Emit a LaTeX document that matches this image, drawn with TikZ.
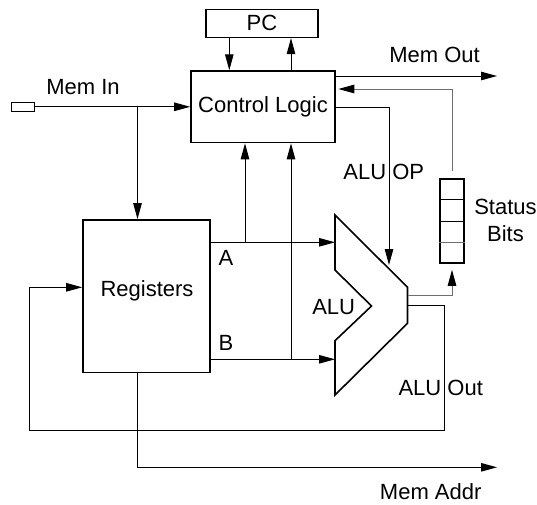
\documentclass[tikz,border=0pt]{standalone}
\usepackage{fontspec}
\setmainfont{Liberation Sans}
\usetikzlibrary{arrows.meta,positioning,calc}
\definecolor{cpuInk}{HTML}{000000}
\definecolor{cpuGrey}{HTML}{6e6e6e}
\tikzset{
  >={Triangle[length=16pt,width=8.5pt]},
  unit/.style={draw=cpuInk, line width=1.6pt, inner sep=0pt,
              font=\fontsize{22}{27}\selectfont},
  lbl/.style={inner sep=0pt, font=\fontsize{22}{27}\selectfont, text=cpuInk},
  flow/.style={->, draw=cpuInk, line width=1pt},
  gflow/.style={-{Triangle[length=16pt,width=8.5pt,color=cpuInk]}, draw=cpuGrey, line width=1pt},
}

\begin{document}
\begin{tikzpicture}[x=1pt,y=-1pt]
    \useasboundingbox (0,0) rectangle (537,504);
    % blocks
    \node[unit,minimum width=111.7pt,minimum height=28pt] (pc) at (262,23.3) {PC};
    \node[unit,minimum width=144pt,minimum height=71.5pt] (ctrl) at (263,106.8) {Control Logic};
    \node[unit,minimum width=127pt,minimum height=152.7pt] (regs) at (146.5,296.3) {};
    \node[lbl] (regslbl) at (147,290.5) {Registers};
    \node[unit,minimum width=24pt,minimum height=84pt] (status) at (452,221) {};
    \foreach \k/\col in {1/cpuInk,2/cpuInk,3/cpuGrey}{
      \draw[\col,line width=1pt] ($(status.north west)!\k/4!(status.south west)$)
        -- ($(status.north east)!\k/4!(status.south east)$);
    }
    \node[lbl,align=center] (statuslbl) at (505.5,220.5) {Status\\Bits};
    \node[unit,line width=1pt,minimum width=23pt,minimum height=9pt] (memin) at (22.5,106.8) {};
    \node[lbl] (meminlbl) at (83,86.7) {Mem In};
    % ALU outline
    \coordinate (alutl) at (335,215);
    \coordinate (alutr) at (407.5,287.3);
    \coordinate (alubr) at (407.5,323.3);
    \coordinate (alubl) at (335,395);
    \coordinate (alulo) at (335,340.7);
    \coordinate (alunotch) at (371.5,306);
    \coordinate (aluup) at (335,270);
    \draw[line width=1.6pt,line join=miter] (alutl) -- (alutr) -- (alubr) -- (alubl)
      -- (alulo) -- (alunotch) -- (aluup) -- cycle;
    \node[lbl] (alulbl) at (333.7,306.7) {ALU};
    % memory in
    \coordinate (inbr) at (137.5,107);
    \draw[flow] (memin.east) -- (memin.east -| ctrl.west);
    \draw[flow] (inbr) -- (inbr |- regs.north);
    % PC <-> control
    \coordinate (pcdn) at (229.3,0);
    \coordinate (pcup) at (291,0);
    \draw[flow] (pcdn |- pc.south) -- (pcdn |- ctrl.north);
    \draw[flow] (pcup |- ctrl.north) -- (pcup |- pc.south);
    % memory out
    \coordinate (memout) at (497,76);
    \draw[flow] (ctrl.east |- memout) -- (memout);
    \node[lbl] (memoutlbl) at (434.5,55) {Mem Out};
    % status feedback
    \coordinate (fbk) at (451,89);
    \draw[gflow,shorten >=2.5pt] ([yshift=7pt]status.north) |- (ctrl.east |- fbk);
    % ALU op
    \coordinate (opout) at (389,107.3);
    \coordinate (opin) at (389,265);
    \draw[flow] (ctrl.east |- opout) -| (opin);
    \node[lbl] (oplbl) at (383.8,172) {ALU OP};
    % operands
    \coordinate (ain) at (335,242.3);
    \coordinate (abr) at (245,242.3);
    \draw[flow] (regs.east |- ain) -- (ain);
    \draw[flow] (abr) -- (abr |- ctrl.south);
    \node[lbl] (albl) at (226,258.3) {A};
    \coordinate (bin) at (335,359.3);
    \coordinate (bbr) at (291,359.3);
    \draw[flow] (regs.east |- bin) -- (bin);
    \draw[flow] (bbr) -- (bbr |- ctrl.south);
    \node[lbl] (blbl) at (226,342.7) {B};
    % ALU results
    \coordinate (alustat) at (407.5,295);
    \draw[gflow] (alustat) -| ([yshift=-6pt]status.south);
    \coordinate (aluout) at (407.5,305.3);
    \coordinate (retdn) at (444,430.7);
    \coordinate (retup) at (29.8,287.3);
    \draw[flow] (aluout) -| (retdn) -| (retup) -- (retup -| regs.west);
    \node[lbl] (outlbl) at (440.7,387.7) {ALU Out};
    % memory address
    \coordinate (maddr) at (497,467.3);
    \draw[flow] (inbr |- regs.south) |- (maddr);
    \node[lbl] (maddrlbl) at (430.7,491.7) {Mem Addr};
\end{tikzpicture}
\end{document}
